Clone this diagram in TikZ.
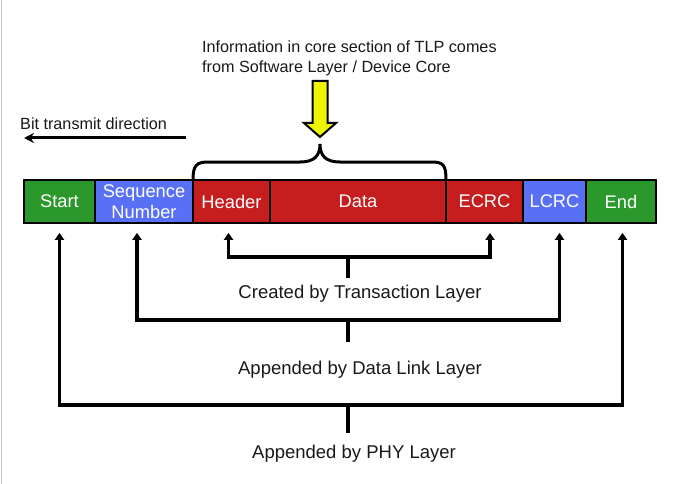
\documentclass[tikz,border=0pt]{standalone}
\usepackage{fontspec}
\setmainfont{Liberation Sans}
\usetikzlibrary{arrows.meta,calc}
\definecolor{pgreen}{RGB}{42,152,42}
\definecolor{pblue}{RGB}{88,112,246}
\definecolor{pred}{RGB}{198,30,30}
\definecolor{pyellow}{RGB}{238,245,0}
\definecolor{ink}{RGB}{25,25,25}
\begin{document}
\begin{tikzpicture}[x=1pt,y=-1pt,
  field/.style={draw=black, line width=1.7pt, minimum height=43pt, inner sep=0pt,
    text=white, font=\fontsize{18.3}{21.5}\selectfont, align=center},
  wire/.style={line width=3.2pt, line join=miter, line cap=butt},
  twotips/.style={wire, {Triangle[length=7pt,width=9pt]}-{Triangle[length=7pt,width=9pt]},
    shorten <=9pt, shorten >=9pt},
  lbl/.style={font=\fontsize{18.5}{21.5}\selectfont, text=ink, anchor=base, inner sep=0pt},
  toptext/.style={font=\fontsize{16.2}{20}\selectfont, text=ink, inner sep=0pt}]
\useasboundingbox (0,0) rectangle (677,484);
\fill[white] (0,0) rectangle (677,484);
\draw[black!22, line width=1pt] (1.5,0) -- (1.5,484);

% top text and yellow arrow
\node[toptext, align=left, anchor=north west] (info) at (202,40.5)
  {Information in core section of TLP comes\\from Software Layer / Device Core};
\draw[fill=pyellow, line width=2pt, line join=miter]
  (312.5,81) -- (327.5,81) -- (327.5,123) -- (336,123) -- (320,137)
  -- (304,123) -- (312.5,123) -- cycle;

% bit direction
\node[toptext, anchor=base west] (bit) at (20,129) {Bit transmit direction};
\coordinate (bitR) at (186,138);
\coordinate (bitL) at (24,138);
\draw[wire, line width=3pt, -{Stealth[length=10pt,width=10pt]}] (bitR) -- (bitL);

% brace
\draw[line width=3pt, line cap=round]
  (193,180) .. controls (193,166) and (196,162) .. (208,162) -- (300,162)
  .. controls (314,162) and (320,156) .. (320,144)
  .. controls (320,156) and (326,162) .. (340,162) -- (432,162)
  .. controls (444,162) and (446,166) .. (446,180);

% packet fields
\node[field, fill=pgreen, minimum width=71pt] (start) at (59.5,201.5) {Start};
\node[field, fill=pblue,  minimum width=98pt] (seq)   at (144,201.5) {Sequence\\Number};
\node[field, fill=pred,   minimum width=77pt] (hdr)   at (231.5,201.5) {Header};
\node[field, fill=pred,   minimum width=176pt] (data) at (358,201.5) {Data};
\node[field, fill=pred,   minimum width=77pt] (ecrc)  at (484.5,201.5) {ECRC};
\node[field, fill=pblue,  minimum width=63pt] (lcrc)  at (554.5,201.5) {LCRC};
\node[field, fill=pgreen, minimum width=70pt] (end)   at (621,201.5) {End};

% Transaction layer
\coordinate (tA) at (228.5,257);
\coordinate (tB) at (490,257);
\coordinate (tM) at (348,257);
\coordinate (tS) at (348,278);
\draw[twotips] (tA |- hdr.south) -- (tA) -- (tB) -- (tB |- ecrc.south);
\draw[wire] (tM) -- (tS);
\node[lbl] (tl) at (360,298) {Created by Transaction Layer};

% Data link layer
\coordinate (dA) at (137,320);
\coordinate (dB) at (559.5,320);
\coordinate (dM) at (348,320);
\coordinate (dS) at (348,342);
\draw[twotips] (dA |- seq.south) -- (dA) -- (dB) -- (dB |- lcrc.south);
\draw[wire] (dM) -- (dS);
\node[lbl] (dl) at (360,374) {Appended by Data Link Layer};

% PHY layer
\coordinate (pA) at (59.5,405);
\coordinate (pB) at (622.5,405);
\coordinate (pM) at (348,405);
\coordinate (pS) at (348,433);
\draw[twotips] (pA |- start.south) -- (pA) -- (pB) -- (pB |- end.south);
\draw[wire] (pM) -- (pS);
\node[lbl] (pl) at (354,458) {Appended by PHY Layer};
\end{tikzpicture}
\end{document}
